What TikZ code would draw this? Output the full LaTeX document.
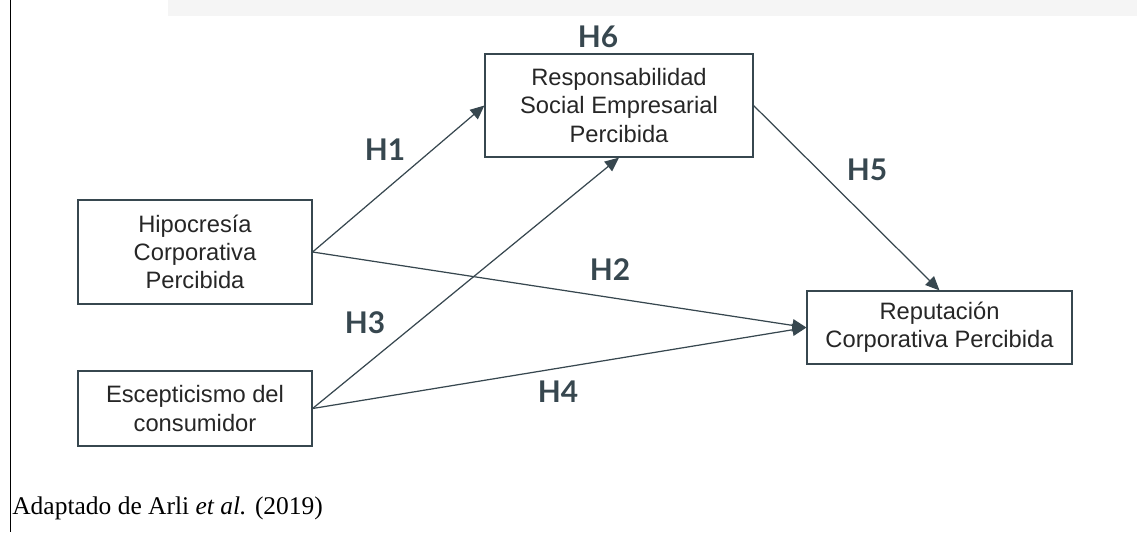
\documentclass[tikz,border=0pt]{standalone}
\usepackage{fontspec}
\setmainfont{Liberation Serif}
\newfontfamily\boxfont{Liberation Sans}
\newfontfamily\hypfont{Lato}
\usetikzlibrary{arrows.meta}
\definecolor{slate}{HTML}{37474F}
\definecolor{boxtext}{HTML}{262626}
\tikzset{
  var/.style={draw=slate, line width=0.7pt, text=boxtext, align=center,
    font=\boxfont\fontsize{13.5}{16}\selectfont, inner sep=0pt},
  hyp/.style={text=slate, font=\hypfont\bfseries\fontsize{17}{19}\selectfont, inner sep=0pt},
  link/.style={draw=slate, line width=0.7pt, -{Triangle[length=8pt,width=7pt]}}
}
\begin{document}
\begin{tikzpicture}
      [x=0.02cm, y=-0.02cm]
      \useasboundingbox (0,0) rectangle (1137,532);
      \fill[gray!8] (168,0) rectangle (1137,16);
      \draw[line width=0.6pt] (10.5,0) -- (10.5,532);
      \node[var, minimum width=4.68cm, minimum height=2.08cm](hcp) at (195, 252) {Hipocresía\\Corporativa\\Percibida};
      \node[var, minimum width=4.68cm, minimum height=1.5cm](esc) at (195, 408.5) {Escepticismo del\\consumidor};
      \node[var, minimum width=5.36cm, minimum height=2.06cm](rse) at (619, 105.5) {Responsabilidad\\Social Empresarial\\Percibida};
      \node[var, minimum width=5.3cm, minimum height=1.46cm](rep) at (939.5, 327.5) {Reputación\\Corporativa Percibida};
      \draw[link](hcp.east) -- (rse.west);
      \draw[link](hcp.east) -- (rep.west);
      \draw[link](esc.east) -- (rse.south);
      \draw[link](esc.east) -- (rep.west);
      \draw[link](rse.east) -- (rep.north);
      \node[hyp](h1) at (385, 150) {H1};
      \node[hyp](h2) at (610, 270) {H2};
      \node[hyp](h3) at (365, 323) {H3};
      \node[hyp](h4) at (558, 392) {H4};
      \node[hyp](h5) at (867, 170) {H5};
      \node[hyp](h6) at (598, 37) {H6};
      \node[anchor=base west, inner sep=0pt, font=\fontsize{14.5}{17}\selectfont](src) at (12, 514) {Adaptado de Arli \textit{et al.} (2019)};
  \end{tikzpicture}
\end{document}
